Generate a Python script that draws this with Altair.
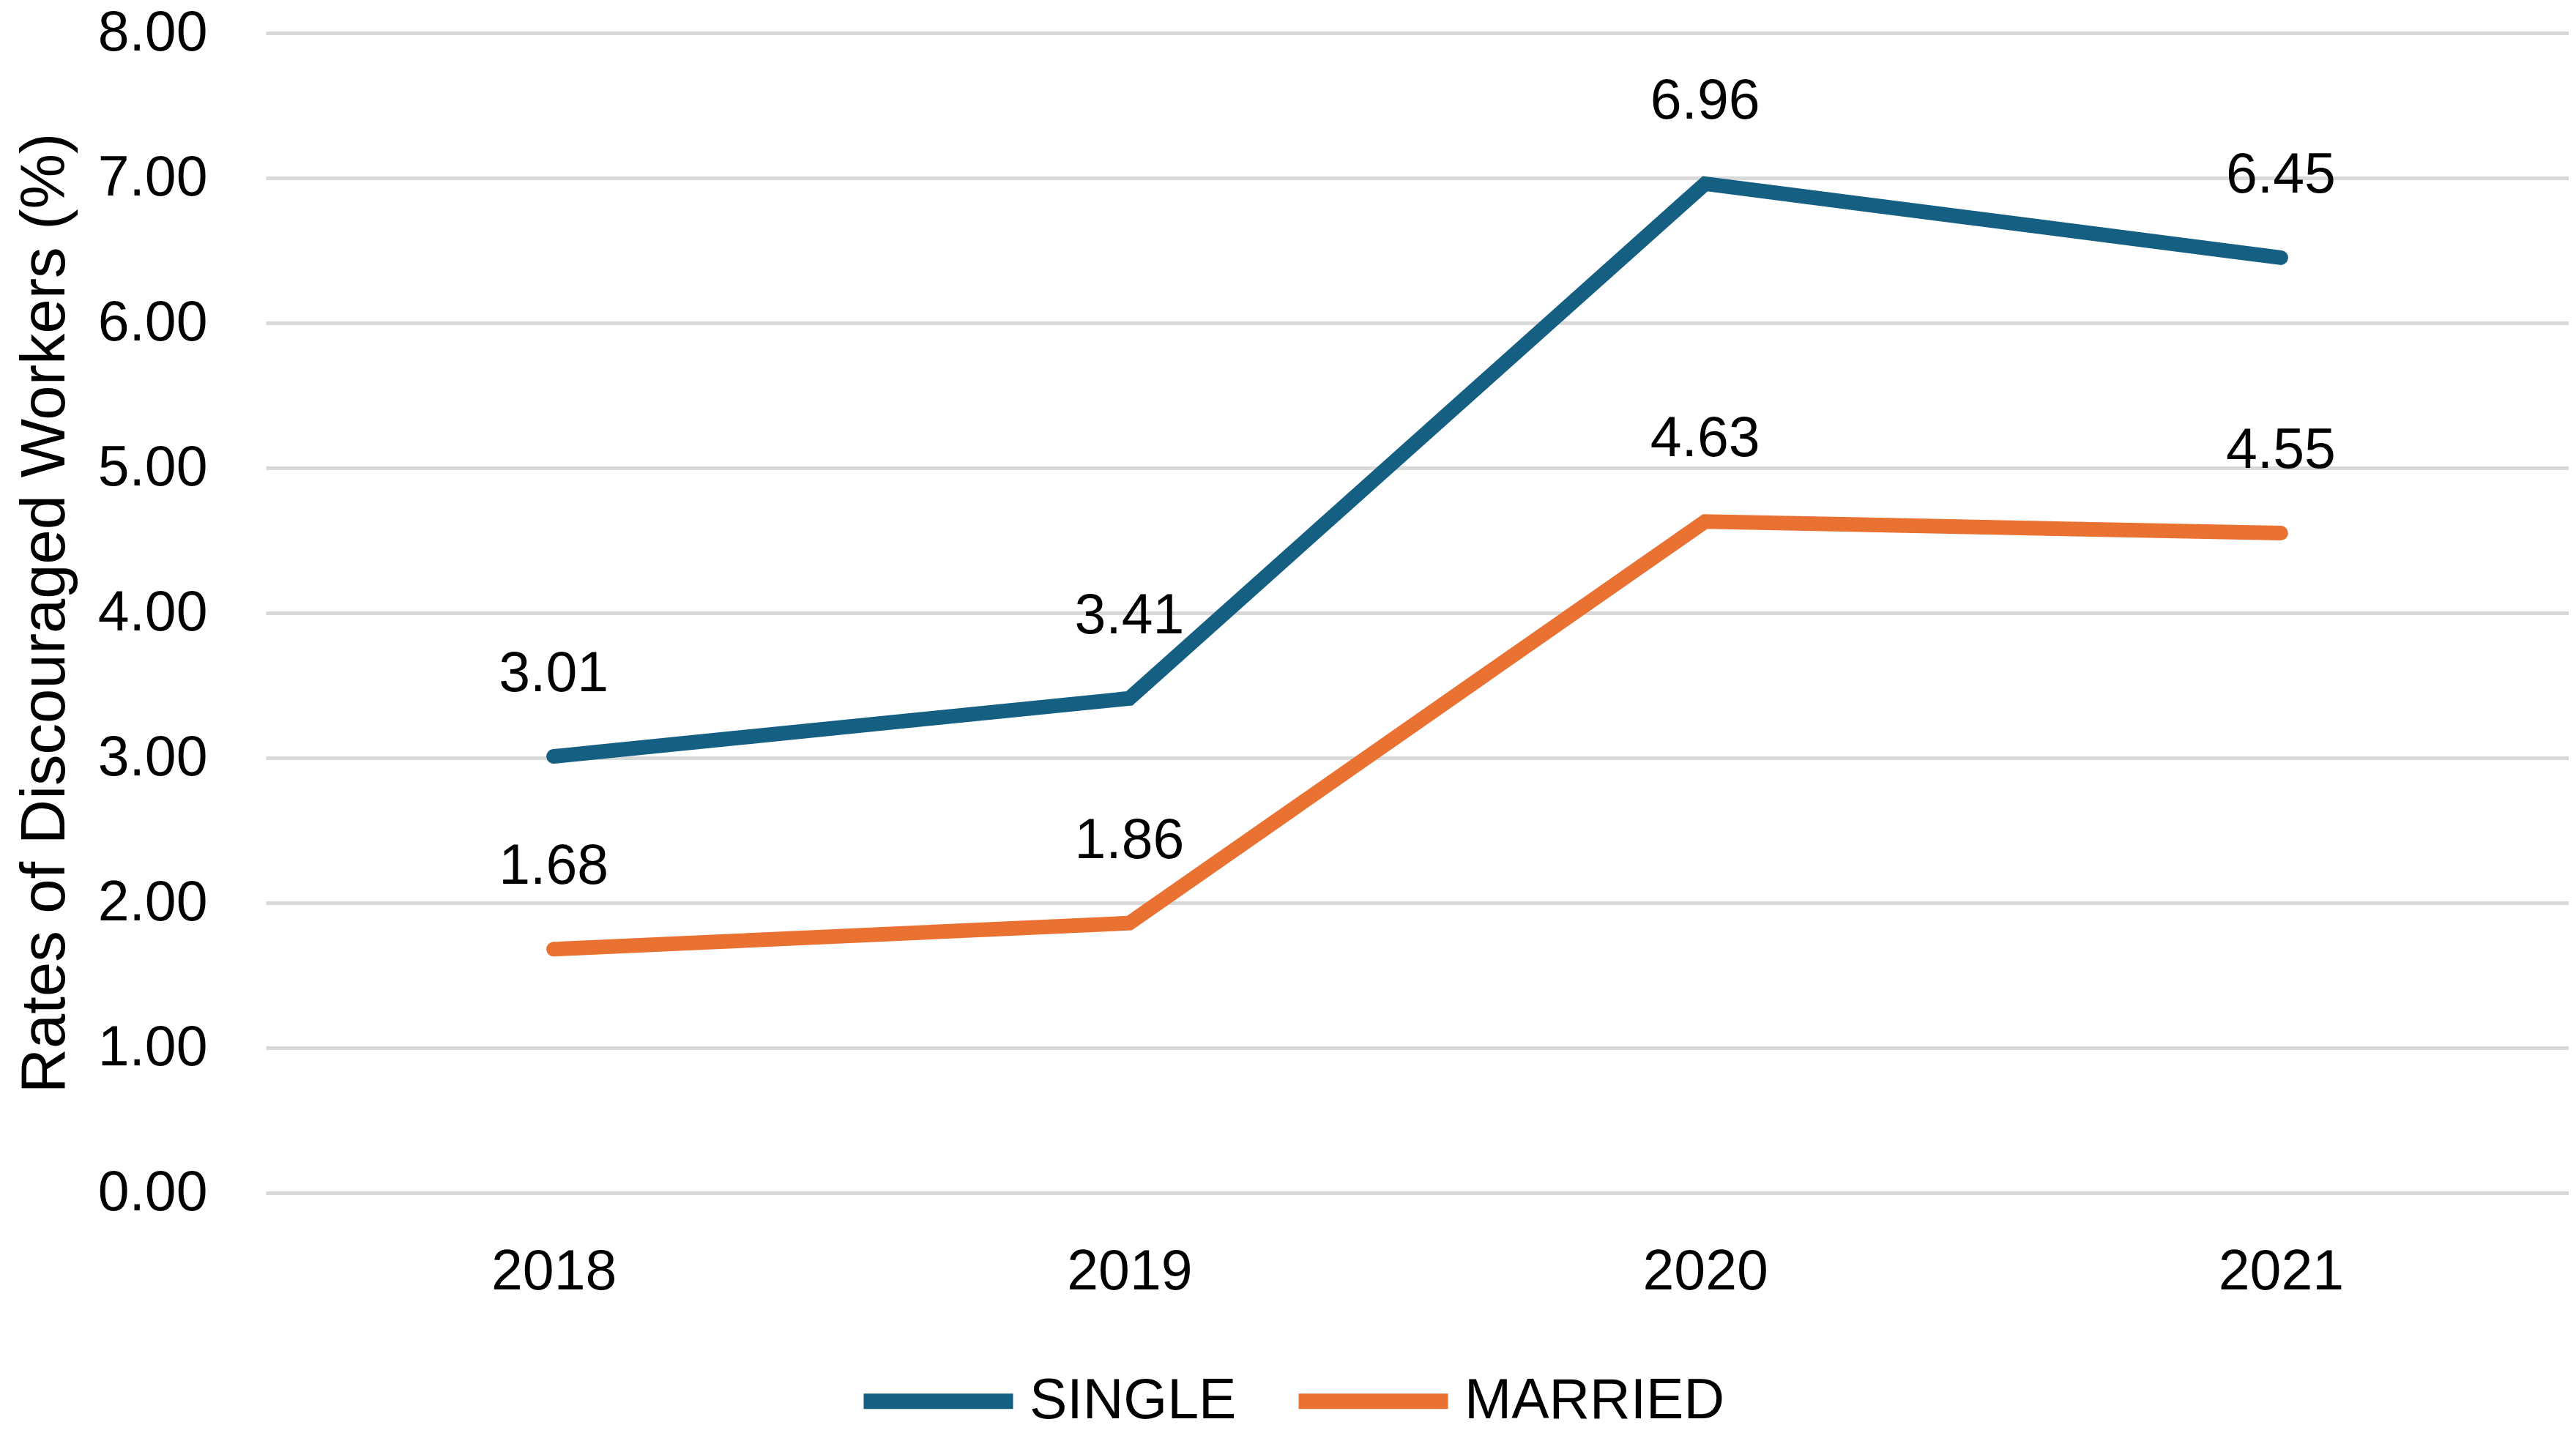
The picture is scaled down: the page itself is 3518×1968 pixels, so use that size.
import altair as alt
import pandas as pd

years = ["2018", "2019", "2020", "2021"]
single = [3.01, 3.41, 6.96, 6.45]
married = [1.68, 1.86, 4.63, 4.55]
series = ["SINGLE", "MARRIED"]
colors = ["#156082", "#E97132"]
y_ticks = [0, 1, 2, 3, 4, 5, 6, 7, 8]
y_title = "Rates of Discouraged Workers (%)"

rows = []
for yr, s, m in zip(years, single, married):
    rows.append({"Year": yr, "Series": "SINGLE", "Rate": s})
    rows.append({"Year": yr, "Series": "MARRIED", "Rate": m})
df = pd.DataFrame(rows)

FONT = "Liberation Sans"
W, H = 3145, 1584

x = alt.X(
    "Year:N",
    sort=years,
    scale=alt.Scale(type="point", padding=0.5),
    axis=alt.Axis(
        title=None, labelAngle=0, labelFontSize=77, labelFont=FONT,
        labelColor="#000000", labelPadding=70, ticks=False, tickSize=0,
        domain=False, grid=False,
    ),
)
y = alt.Y(
    "Rate:Q",
    scale=alt.Scale(domain=[0, 8], nice=False, zero=True),
    axis=alt.Axis(
        title=y_title, values=y_ticks, format=".2f",
        labelFontSize=77, labelFont=FONT, labelColor="#000000",
        labelPadding=80, ticks=False, tickSize=0, domain=False,
        grid=True, gridColor="#d9d9d9", gridWidth=5,
        titleFontSize=85, titleFont=FONT, titleFontWeight="normal",
        titleColor="#000000", titleAngle=270, titleAlign="center",
        titleBaseline="middle", titleX=-302, titleY=H / 2,
    ),
)
color = alt.Color(
    "Series:N",
    sort=series,
    scale=alt.Scale(domain=series, range=colors),
    legend=alt.Legend(
        title=None, orient="none", legendX=806, legendY=1756,
        direction="horizontal", symbolType="stroke", symbolStrokeWidth=21,
        symbolSize=41616, labelFontSize=77, labelFont=FONT,
        labelColor="#000000", labelOffset=12, columnPadding=42,
        labelLimit=1000,
    ),
)

lines = alt.Chart(df).mark_line(strokeWidth=20, strokeCap="round").encode(
    x=x, y=y, color=color
)
labels = alt.Chart(df).mark_text(
    dy=-112, fontSize=77, font=FONT, color="#000000", baseline="middle"
).encode(
    x=x, y=y, text=alt.Text("Rate:Q", format=".2f"), detail="Series:N"
)

chart = (
    alt.layer(lines, labels)
    .properties(
        width=W, height=H,
        padding={"left": 355, "top": 37, "right": 0, "bottom": 330},
        autosize=alt.AutoSizeParams(type="none"),
        background="white",
    )
    .configure_view(stroke=None)
)

chart.save("out.html", embed_options={"renderer": "svg", "actions": False})
